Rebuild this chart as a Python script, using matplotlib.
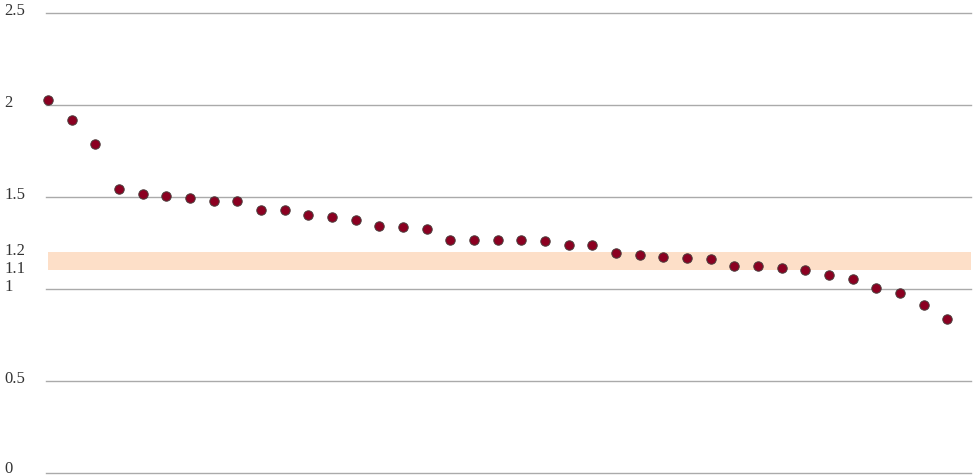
import matplotlib
matplotlib.use("Agg")
import matplotlib.pyplot as plt
import matplotlib.transforms as mtransforms
import numpy as np

# values, sorted high to low
values = [2.022, 1.918, 1.783, 1.543, 1.514, 1.502, 1.493, 1.478, 1.478,
          1.429, 1.424, 1.397, 1.386, 1.370, 1.337, 1.332, 1.321, 1.266,
          1.265, 1.265, 1.261, 1.258, 1.239, 1.236, 1.192, 1.181, 1.170,
          1.167, 1.158, 1.125, 1.125, 1.114, 1.103, 1.071, 1.054, 1.004,
          0.978, 0.913, 0.832]
grid_levels = [0, 0.5, 1, 1.5, 2, 2.5]
tick_values = [0, 0.5, 1, 1.1, 1.2, 1.5, 2, 2.5]
tick_labels = ["0", "0.5", "1", "1.1", "1.2", "1.5", "2", "2.5"]
band = (1.1, 1.2)

W, H = 976, 477
fig = plt.figure(figsize=(W / 100, H / 100), dpi=100)
ax = fig.add_axes([46 / W, 3.5 / H, 925 / W, 460 / H])

x = np.arange(len(values))
ax.set_xlim(-0.085, 39.0)
ax.set_ylim(0, 2.5)

for g in grid_levels:
    ax.axhline(g, color="#aaaaaa", lw=1, zorder=1, clip_on=False)

ax.fill_between([0, 39.0], band[0], band[1], color="#fddfc8", lw=0, zorder=0)

ax.scatter(x, values, s=46, color="#8b0021", edgecolors="#4a3a3a",
           linewidths=0.7, zorder=3, clip_on=False)

for s in ax.spines.values():
    s.set_visible(False)
ax.set_xticks([])
ax.set_yticks([])

# y labels sit at the far left of the figure, a little above their level
base = mtransforms.blended_transform_factory(fig.transFigure, ax.transData)
for v, t in zip(tick_values, tick_labels):
    lift = 4.5 if v == 0 else 2
    trans = base + mtransforms.ScaledTranslation(0, lift / 100, fig.dpi_scale_trans)
    ax.text(4 / W, v, t, transform=trans, ha="left", va="center",
            fontfamily="Liberation Serif", fontsize=12, color="#333333")

fig.savefig("out.png", dpi=100)
